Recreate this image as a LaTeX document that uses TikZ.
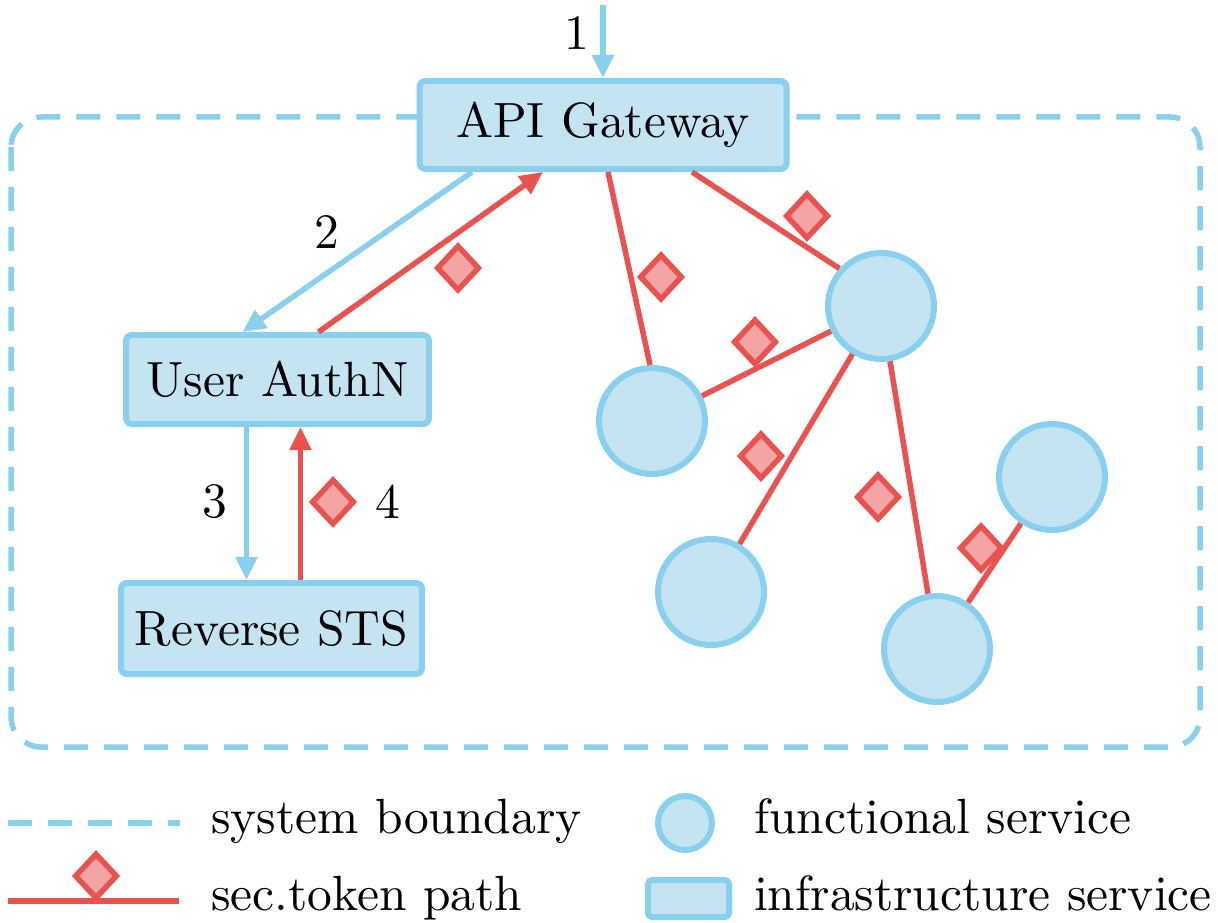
\documentclass[tikz,border=0pt]{standalone}
\usepackage{graphicx}
\usetikzlibrary{arrows.meta,shapes.geometric}
\definecolor{sblue}{HTML}{88D0EE}
\definecolor{sfill}{HTML}{C4E4F2}
\definecolor{sred}{HTML}{E8524F}
\definecolor{dfill}{HTML}{F4A4A4}
\newcommand{\bt}[1]{\scalebox{4.95}{#1}}
\begin{document}
\begin{tikzpicture}[x=1pt,y=-1pt,
  box/.style={draw=sblue, fill=sfill, line width=6pt, rounded corners=6pt, inner sep=0pt},
  fsvc/.style={circle, draw=sblue, fill=sfill, line width=6pt, minimum size=106pt, inner sep=0pt},
  tok/.style={diamond, draw=sred, fill=dfill, line width=5.5pt, minimum width=43pt, minimum height=46pt, inner sep=0pt, line join=miter},
  bline/.style={draw=sblue, line width=5.5pt},
  rline/.style={draw=sred, line width=5.5pt},
  btip/.style={-{Triangle[length=23pt,width=21pt]}},
  lbl/.style={inner sep=0pt},
  bound/.style={draw=sblue, line width=5.5pt, dash pattern=on 24pt off 16pt}]

\useasboundingbox (0,0) rectangle (1218,923);

% system boundary
\draw[bound, rounded corners=30pt] (11,117) rectangle (1200,747);

% infrastructure services
\node[box, minimum width=367pt, minimum height=88pt] (gw) at (603,125) {\bt{API Gateway}};
\node[box, minimum width=303pt, minimum height=89pt] (ua) at (277.5,379.5) {\bt{User AuthN}};
\node[box, minimum width=301pt, minimum height=91pt] (rs) at (271.5,628.5) {\bt{Reverse STS}};

% functional services
\node[fsvc] (c1) at (652,421) {};
\node[fsvc] (c2) at (881,306) {};
\node[fsvc] (c3) at (711,592) {};
\node[fsvc] (c4) at (1052,477) {};
\node[fsvc] (c5) at (937,649) {};

% request flow (blue)
\coordinate (in) at (603,5);
\draw[bline, btip] (in) -- (gw.north);
\draw[bline, btip] ([xshift=-131pt]gw.south) -- ([xshift=-35pt]ua.north);
\draw[bline, btip] ([xshift=-31pt]ua.south) -- ([xshift=-25pt]rs.north);

% token paths (red)
\draw[rline, btip] ([xshift=41pt]ua.north) -- ([xshift=-60pt]gw.south);
\draw[rline, btip] ([xshift=29pt]rs.north) -- ([xshift=23pt]ua.south);
\draw[rline] ([xshift=5pt]gw.south) -- (c1.92);
\draw[rline] ([xshift=89pt]gw.south) -- (c2.138);
\draw[rline] (c2) -- (c1);
\draw[rline] (c2) -- (c3);
\draw[rline] (c2) -- (c5);
\draw[rline] (c4) -- (c5);

% tokens
\node[tok] (d1) at (458,268) {};
\node[tok] (d2) at (661,277) {};
\node[tok] (d3) at (807,216) {};
\node[tok] (d4) at (755,342) {};
\node[tok] (d5) at (761,456) {};
\node[tok] (d6) at (878,497) {};
\node[tok] (d7) at (981,548) {};
\node[tok] (d8) at (333,502) {};

% step labels
\node[lbl] (n1) at (577,33) {\bt{1}};
\node[lbl] (n2) at (327,232) {\bt{2}};
\node[lbl] (n3) at (215,502) {\bt{3}};
\node[lbl] (n4) at (388,502) {\bt{4}};

% legend
\coordinate (la) at (8,823);
\coordinate (lb) at (180,823);
\draw[bound] (la) -- (lb);
\coordinate (lc) at (8,901);
\coordinate (ld) at (179,901);
\draw[rline] (lc) -- (ld);
\node[tok] (ldia) at (96,876) {};
\node[circle, draw=sblue, fill=sfill, line width=6pt, minimum size=54pt, inner sep=0pt] (lcirc) at (685,823) {};
\node[box, rounded corners=4pt, minimum width=81pt, minimum height=37pt] (lrect) at (688.5,898.5) {};
\node[lbl, anchor=base west] (t1) at (211,833) {\bt{system boundary}};
\node[lbl, anchor=base west] (t2) at (754,833) {\bt{functional service}};
\node[lbl, anchor=base west] (t3) at (211,910) {\bt{sec.token path}};
\node[lbl, anchor=base west] (t4) at (754,910) {\bt{infrastructure service}};
\end{tikzpicture}
\end{document}
